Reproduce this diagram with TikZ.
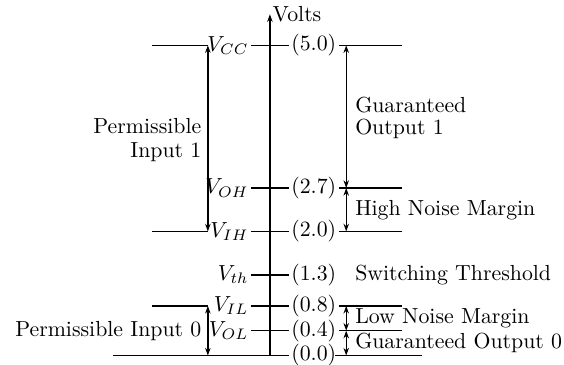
\documentclass[tikz,border=0pt]{standalone}
\usepackage{amsmath}
\usetikzlibrary{arrows.meta,positioning}

\begin{document}
\begin{tikzpicture}[semithick, >={Stealth[length=3.5pt,width=2.5pt]},
    lbl/.style={inner sep=1pt}, note/.style={inner sep=1pt}]
  \useasboundingbox (-4.35,-0.15) rectangle (4.74,5.73);

  % Voltage axis
  \coordinate (ax0) at (0,0);
  \coordinate (ax1) at (0,5.5);
  \draw[->] (ax0) -- (ax1);
  \node[right=1pt of ax1, inner sep=0pt] (volts) {Volts};

  % Levels: name on the left, tick through the axis, value on the right
  \foreach \v/\lab/\n in {5.0/V_{CC}/cc, 2.7/V_{OH}/oh, 2.0/V_{IH}/ih,
      1.3/V_{th}/th, 0.8/V_{IL}/il, 0.4/V_{OL}/ol} {
    \node[lbl, anchor=east] (l\n) at (-0.3,\v) {$\lab$};
    \node[lbl, anchor=west] (v\n) at (0.3,\v) {(\v)};
    \draw (l\n.east) -- (v\n.west);
  }

  % Ground level
  \coordinate (gl) at (-2.53,0);
  \coordinate (gr1) at (1.05,0);
  \coordinate (gr2) at (2.45,0);
  \node[lbl, anchor=west] (vzero) at (0.3,0) {(0.0)};
  \draw (gl) -- (vzero.west);
  \draw (gr1) -- (gr2);

  % Input thresholds (left)
  \foreach \v in {5.0,2.0,0.8}
    \draw (-1.9,\v) -- (-1.0,\v);
  \draw[<->] (-1,5) -- (-1,2);
  \draw[<->] (-1,0.8) -- (-1,0);
  \node[note, anchor=east, align=right] (pin1) at (-1.06,3.47) {Permissible\\[-1pt]Input 1};
  \node[note, anchor=east] (pin0) at (-1.06,0.4) {Permissible Input 0};

  % Output levels and noise margins (right)
  \foreach \v in {5.0,2.7,2.0,0.8,0.4}
    \draw (1.11,\v) -- (2.13,\v);
  \draw[<->] (1.23,5) -- (1.23,2.7);
  \draw[<->] (1.23,2.7) -- (1.23,2);
  \draw[<->] (1.23,0.8) -- (1.23,0.4);
  \draw[<->] (1.23,0.4) -- (1.23,0);
  \node[note, anchor=west, align=left] (gout1) at (1.33,3.83) {Guaranteed\\[-2pt]Output 1};
  \node[note, anchor=west] (nmh) at (1.33,2.35) {High Noise Margin};
  \node[note, anchor=west] (vsw) at (1.33,1.3) {Switching Threshold};
  \node[note, anchor=west] (nml) at (1.33,0.6) {Low Noise Margin};
  \node[note, anchor=west] (gout0) at (1.33,0.2) {Guaranteed Output 0};
\end{tikzpicture}
\end{document}
